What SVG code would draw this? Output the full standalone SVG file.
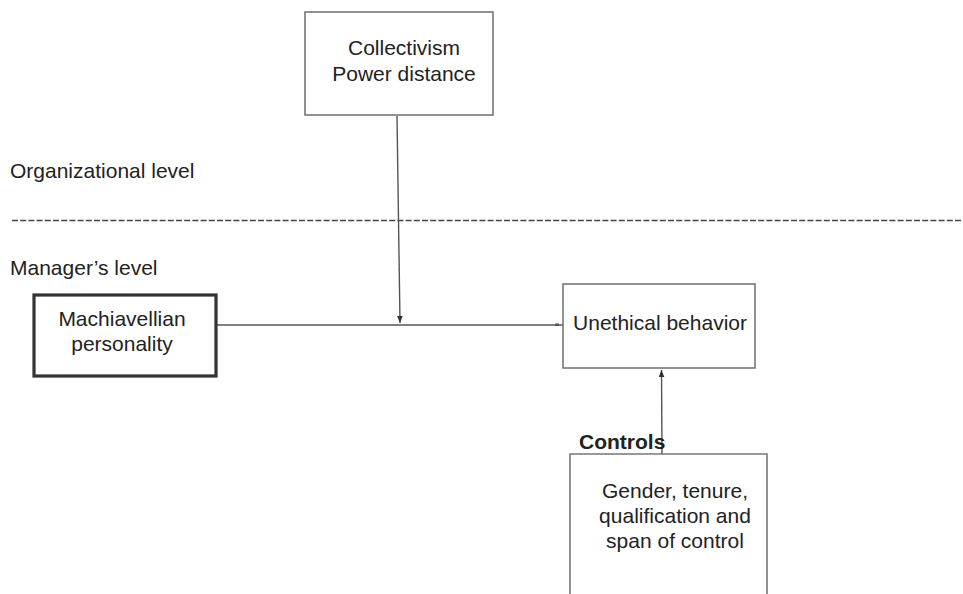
<svg xmlns="http://www.w3.org/2000/svg" width="963" height="594" viewBox="0 0 963 594">
<style>
text{font-family:"Liberation Sans",Arial,Helvetica,sans-serif;font-size:21px;fill:#222}
.c{text-anchor:middle}
.box{fill:#fff;stroke:#777;stroke-width:1.6}
.thick{fill:#fff;stroke:#333;stroke-width:3.2}
.ln{fill:none;stroke:#555;stroke-width:1.4}
</style>
<defs>
<marker id="ah" viewBox="0 0 10 10" refX="10" refY="5" markerWidth="7" markerHeight="7" markerUnits="userSpaceOnUse" orient="auto">
<path d="M0,1 L10,5 L0,9 z" fill="#333"/>
</marker>
</defs>
<rect width="963" height="594" fill="#fff"/>
<g id="org-level"><text x="10" y="178">Organizational level</text></g>
<g id="divider"><line x1="12" y1="220.5" x2="963" y2="220.5" stroke="#444" stroke-width="1.6" stroke-dasharray="6,2.2"/></g>
<g id="mgr-level"><text x="10" y="275">Manager’s level</text></g>
<g id="connectors">
<line class="ln" x1="217" y1="325" x2="563" y2="325"/>
<rect x="555" y="323.5" width="4" height="2.5" fill="#555"/>
<line class="ln" x1="397" y1="116" x2="400" y2="323" marker-end="url(#ah)"/>
<line class="ln" x1="662" y1="456" x2="661.5" y2="370" marker-end="url(#ah)"/>
</g>
<g id="collectivism">
<rect class="box" x="305" y="12" width="188" height="103"/>
<text class="c" x="404" y="55">Collectivism</text>
<text class="c" x="404" y="81">Power distance</text>
</g>
<g id="machiavellian">
<rect class="thick" x="34" y="295" width="182" height="81"/>
<text class="c" x="122" y="326">Machiavellian</text>
<text class="c" x="122" y="351">personality</text>
</g>
<g id="unethical">
<rect class="box" x="563" y="284" width="192" height="84"/>
<text class="c" x="660" y="330">Unethical behavior</text>
</g>
<g id="controls">
<path class="box" d="M570,594 V454 H767 V594"/>
<text x="579" y="449" style="font-weight:bold">Controls</text>
<text class="c" x="675" y="498">Gender, tenure,</text>
<text class="c" x="675" y="523">qualification and</text>
<text class="c" x="675" y="548">span of control</text>
</g>
</svg>
